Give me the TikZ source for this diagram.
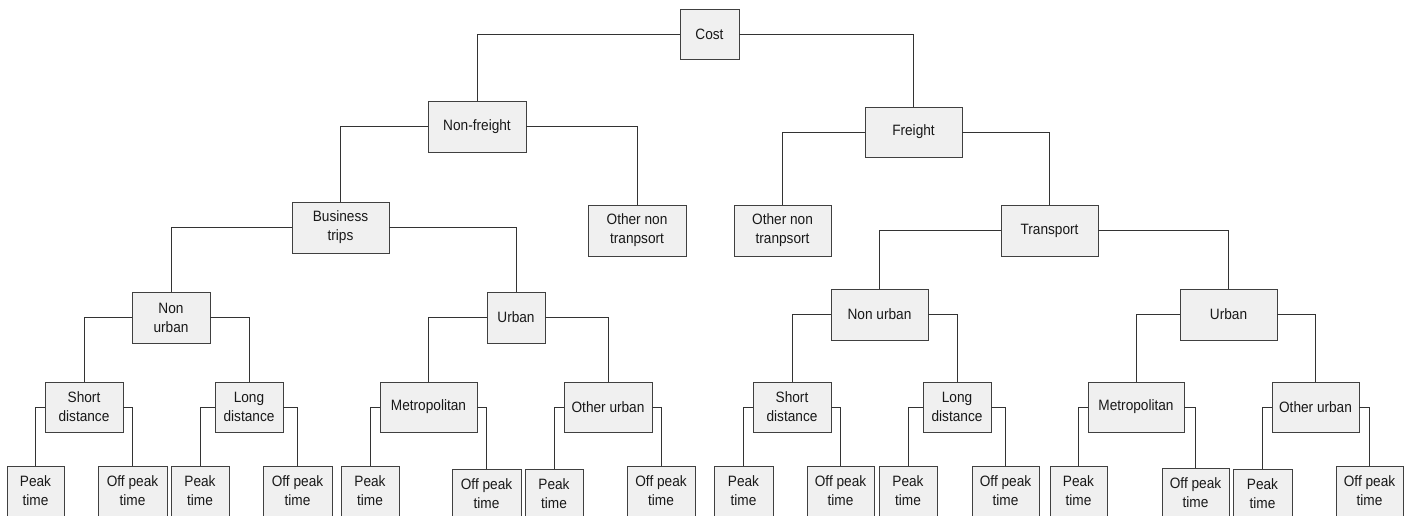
\documentclass[tikz,border=0pt]{standalone}
\usepackage{fontspec}
\setmainfont[FakeStretch=0.91]{Liberation Sans}
\begin{document}
\begin{tikzpicture}[x=1pt,y=-1pt,
  box/.style={draw=black!75, fill=black!6, line width=0.9pt, inner sep=0pt,
    align=center, text=black!90, font=\fontsize{15}{19}\selectfont,
    minimum height=50},
  w/.style={minimum width=#1},
  link/.style={draw=black!80, line width=0.9pt}]
\useasboundingbox (0,0) rectangle (1410,515);
\clip (0,0) rectangle (1410,515);

% level 0 and 1
\node[box,w=59] (cost) at (709.5,34) {Cost};
\node[box,w=98,minimum height=51] (nf) at (477,126.5) {Non-freight};
\node[box,w=97] (fr) at (913.5,132) {Freight};

% level 2
\node[box,w=97,minimum height=51] (bt) at (340.5,227.5) {Business\\trips};
\node[box,w=98,minimum height=51] (onl) at (637,230.5) {Other non\\tranpsort};
\node[box,w=97,minimum height=51] (onr) at (782.5,230.5) {Other non\\tranpsort};
\node[box,w=97,minimum height=51] (tr) at (1049.5,230.5) {Transport};

% level 3
\node[box,w=78,minimum height=51] (nul) at (171,317.5) {Non\\urban};
\node[box,w=58,minimum height=51] (ul) at (516,317.5) {Urban};
\node[box,w=97,minimum height=51] (nur) at (879.5,314.5) {Non urban};
\node[box,w=97,minimum height=51] (ur) at (1228.5,314.5) {Urban};

% level 4
\node[box,w=78] (sdl) at (84,407) {Short\\distance};
\node[box,w=68] (ldl) at (249,407) {Long\\distance};
\node[box,w=97] (mel) at (428.5,407) {Metropolitan};
\node[box,w=88] (oul) at (608,407) {Other urban};
\node[box,w=78] (sdr) at (792,407) {Short\\distance};
\node[box,w=68] (ldr) at (957,407) {Long\\distance};
\node[box,w=96] (mer) at (1136,407) {Metropolitan};
\node[box,w=87] (our) at (1315.5,407) {Other urban};

% level 5: peak / off peak leaves
\node[box,w=57] (p1) at (35.5,491) {Peak\\time};
\node[box,w=69] (o1) at (132.5,491) {Off peak\\time};
\node[box,w=58] (p2) at (200,491) {Peak\\time};
\node[box,w=69] (o2) at (297.5,491) {Off peak\\time};
\node[box,w=58] (p3) at (370,491) {Peak\\time};
\node[box,w=69] (o3) at (486.5,494) {Off peak\\time};
\node[box,w=58] (p4) at (554,494) {Peak\\time};
\node[box,w=68] (o4) at (661,491) {Off peak\\time};
\node[box,w=59] (p5) at (743.5,491) {Peak\\time};
\node[box,w=67] (o5) at (840.5,491) {Off peak\\time};
\node[box,w=58] (p6) at (908,491) {Peak\\time};
\node[box,w=67] (o6) at (1005.5,491) {Off peak\\time};
\node[box,w=57] (p7) at (1078.5,491) {Peak\\time};
\node[box,w=67] (o7) at (1195.5,493) {Off peak\\time};
\node[box,w=59] (p8) at (1262.5,494) {Peak\\time};
\node[box,w=67] (o8) at (1369.5,491) {Off peak\\time};

% connectors: side of parent, across, then down to child
\foreach \p/\l/\r in {cost/nf/fr, nf/bt/onl, fr/onr/tr, bt/nul/ul, tr/nur/ur,
    nul/sdl/ldl, ul/mel/oul, nur/sdr/ldr, ur/mer/our,
    sdl/p1/o1, ldl/p2/o2, mel/p3/o3, oul/p4/o4,
    sdr/p5/o5, ldr/p6/o6, mer/p7/o7, our/p8/o8}{
  \draw[link] (\p.west) -| (\l.north);
  \draw[link] (\p.east) -| (\r.north);
}
\end{tikzpicture}
\end{document}
